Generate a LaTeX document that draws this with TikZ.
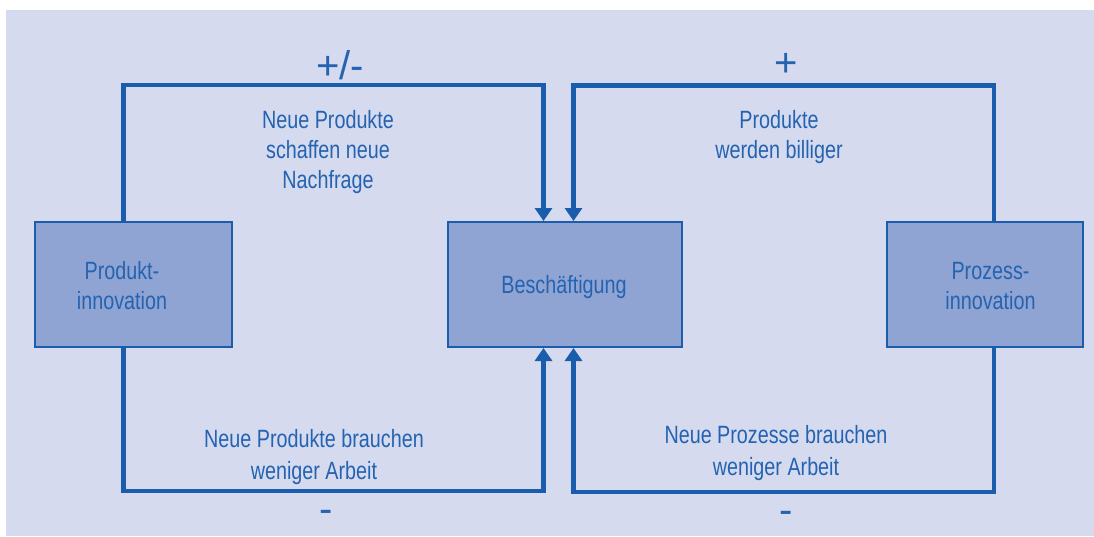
\documentclass[tikz,border=0pt]{standalone}
\usepackage{fontspec}
\setmainfont{Liberation Sans}[FakeStretch=0.79]
\newfontfamily\signfont{Liberation Sans}
\usetikzlibrary{arrows.meta}
\definecolor{bgc}{HTML}{D5DAEE}
\definecolor{boxc}{HTML}{90A4D3}
\definecolor{linec}{HTML}{1A5DAD}
\definecolor{textc}{HTML}{2463B1}
\tikzset{
  box/.style={draw=linec, line width=2pt, fill=boxc, minimum height=125pt, inner sep=0pt},
  lbl/.style={text=textc, align=center, font=\fontsize{25}{30}\selectfont, inner sep=0pt},
  lbltwo/.style={text=textc, align=center, font=\fontsize{25}{32}\selectfont, inner sep=0pt},
  sign/.style={text=textc, font=\signfont\fontsize{40}{40}\selectfont, inner sep=0pt},
  conn/.style={draw=linec, line width=4.5pt},
  arr/.style={conn, -{Triangle[width=17pt,length=13pt]}},
}
\begin{document}
\begin{tikzpicture}[x=1pt,y=-1pt]
\useasboundingbox (0,0) rectangle (1094,536);
\fill[white] (0,0) rectangle (1094,536);
\fill[bgc] (6,10) rectangle (1094,536);

\node[box, minimum width=197pt] (prod) at (133.5,284.5) {};
\node[box, minimum width=234pt] (besch) at (565,284.5) {};
\node[box, minimum width=196pt] (proz) at (985,284.5) {};

\node[lbl] (prodt) at (122,286) {Produkt-\\innovation};
\node[lbl] (bescht) at (564,287) {Besch\"aftigung};
\node[lbl] (prozt) at (990.5,286) {Prozess-\\innovation};

\coordinate (pn) at ([xshift=-10pt]prod.north);
\coordinate (ps) at ([xshift=-10pt]prod.south);
\coordinate (bnl) at ([xshift=-21.5pt]besch.north);
\coordinate (bnr) at ([xshift=8.5pt]besch.north);
\coordinate (bsl) at ([xshift=-21.5pt]besch.south);
\coordinate (bsr) at ([xshift=8.5pt]besch.south);
\coordinate (zn) at ([xshift=9pt]proz.north);
\coordinate (zs) at ([xshift=9pt]proz.south);

\draw[arr] (pn) -- (pn |- 0,85) -| (bnl);
\draw[arr] (zn) -- (zn |- 0,85.5) -| (bnr);
\draw[arr] (ps) -- (ps |- 0,491) -| (bsl);
\draw[arr] (zs) -- (zs |- 0,492) -| (bsr);

\node[sign] (s1) at (340,65) {+/-};
\node[sign] (s2) at (786,65) {+};
\node[sign] (s3) at (326,516) {-};
\node[sign] (s4) at (786,517) {-};

\node[lbl] (t1) at (328,152) {Neue Produkte\\schaffen neue\\Nachfrage};
\node[lbl] (t2) at (779,137) {Produkte\\werden billiger};
\node[lbltwo] (t3) at (314,457) {Neue Produkte brauchen\\weniger Arbeit};
\node[lbltwo] (t4) at (776,453) {Neue Prozesse brauchen\\weniger Arbeit};
\end{tikzpicture}
\end{document}
